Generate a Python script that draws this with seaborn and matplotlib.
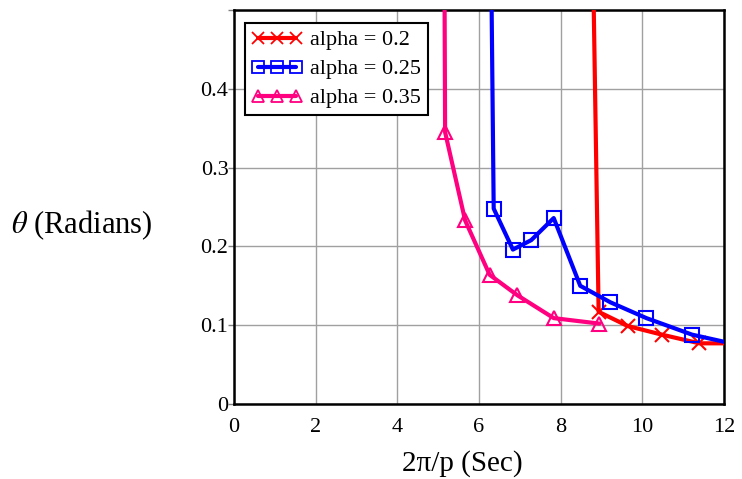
import matplotlib
matplotlib.use("Agg")
import matplotlib.pyplot as plt
from matplotlib.lines import Line2D
import seaborn as sns
import pandas as pd

# ---- data ----
x_a20 = [8.78, 8.93, 9.64, 10.48, 11.40, 12.00]
y_a20 = [0.60, 0.117, 0.099, 0.088, 0.077, 0.077]

x_a25 = [6.29, 6.36, 6.83, 7.28, 7.83, 8.48, 9.22, 10.10, 11.22, 12.00]
y_a25 = [0.60, 0.248, 0.196, 0.208, 0.236, 0.150, 0.129, 0.109, 0.088, 0.079]

x_a35 = [5.15, 5.17, 5.66, 6.26, 6.94, 7.83, 8.95]
y_a35 = [0.60, 0.345, 0.233, 0.164, 0.138, 0.109, 0.102]

series_labels = ["alpha = 0.2", "alpha = 0.25", "alpha = 0.35"]
x_ticks = [0, 2, 4, 6, 8, 10, 12]
y_ticks = [0, 0.1, 0.2, 0.3, 0.4]
y_tick_labels = ["0", "0.1", "0.2", "0.3", "0.4"]

colors = ["#ff0000", "#0000ff", "#ff0080"]
markers = ["x", "s", "^"]

sns.set_style("white")
plt.rcParams["font.family"] = ["Liberation Serif", "DejaVu Serif"]
plt.rcParams["mathtext.fontset"] = "stix"
plt.rcParams["text.color"] = "black"
plt.rcParams["xtick.color"] = "black"
plt.rcParams["ytick.color"] = "black"
plt.rcParams["axes.labelcolor"] = "black"

fig = plt.figure(figsize=(7.42, 4.79), dpi=100)
ax = fig.add_axes([0.3154, 0.1566, 0.9757 - 0.3154, 0.979 - 0.1566])

all_x = [x_a20, x_a25, x_a35]
all_y = [y_a20, y_a25, y_a35]
for lab, xs, ys, col, mk in zip(series_labels, all_x, all_y, colors, markers):
    d = pd.DataFrame({"period": xs, "theta": ys})
    n = len(xs)
    mev = list(range(1, n - 1)) if lab != "alpha = 0.35" else list(range(1, n))
    sns.lineplot(data=d, x="period", y="theta", sort=False, estimator=None,
                 color=col, linewidth=3, marker=mk, markersize=10,
                 markerfacecolor="none", markeredgecolor=col, markeredgewidth=1.5,
                 markevery=mev, ax=ax, legend=False, zorder=3)

ax.set_xlim(0, 12)
ax.set_ylim(0, 0.5)
ax.set_xticks(x_ticks)
ax.set_xticklabels([str(t) for t in x_ticks], fontsize=16)
ax.set_yticks(y_ticks + [0.5])
ax.set_yticklabels(y_tick_labels + [""], fontsize=16)
ax.grid(True, color="#a0a0a0", linewidth=1)
ax.set_axisbelow(True)
ax.tick_params(axis="y", direction="out", length=4, width=1, color="#808080",
               labelcolor="black", pad=0, left=True)
ax.tick_params(axis="x", direction="out", length=0, pad=10, bottom=True, labelcolor="black")
for s in ax.spines.values():
    s.set_color("black")
    s.set_linewidth(1.8)
    s.set_visible(True)

ax.set_xlabel("2π/p (Sec)", fontsize=21, color="black")
ax.xaxis.set_label_coords(0.465, -0.118)
ax.set_ylabel("")
fig.text(0.1105, 0.530, r"$\theta$ (Radians)", fontsize=22, ha="center", va="center",
         color="black")

handles = [Line2D([0], [0], color=c, lw=3, marker=m, markersize=9,
                  markerfacecolor="none", markeredgecolor=c, markeredgewidth=1.3)
           for c, m in zip(colors, markers)]
leg = ax.legend(handles, series_labels, loc="upper left", bbox_to_anchor=(0.022, 0.967),
                numpoints=3, handlelength=2.3, handletextpad=0.35, fontsize=16,
                frameon=True, fancybox=False, edgecolor="black", borderpad=0.3,
                labelspacing=0.38, borderaxespad=0.0)
leg.get_frame().set_linewidth(1.5)
leg.get_frame().set_alpha(1)
for t in leg.get_texts():
    t.set_color("black")

fig.savefig("out.png", dpi=100)
